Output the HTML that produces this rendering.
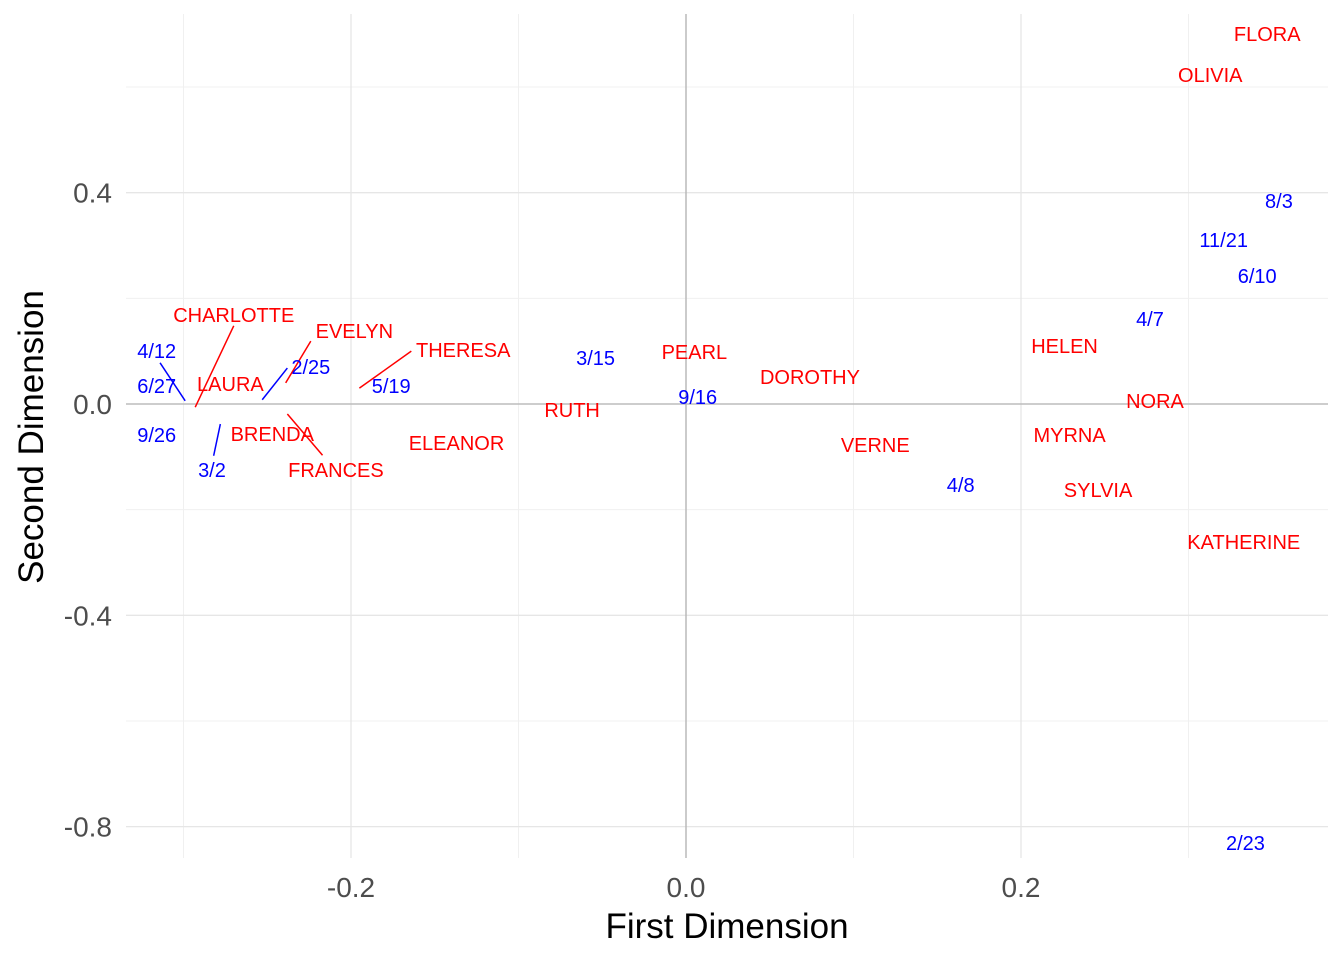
<!DOCTYPE html>
<html><head><meta charset="utf-8"><style>
body{margin:0;background:#fff;}
svg{display:block;font-family:"Liberation Sans",Arial,sans-serif;}
</style></head><body>
<svg id="chart" width="1344" height="960"></svg>
<script>
const womenNames=["FLORA","OLIVIA","CHARLOTTE","EVELYN","THERESA","LAURA","PEARL","DOROTHY","HELEN","RUTH","NORA","BRENDA","ELEANOR","MYRNA","VERNE","FRANCES","SYLVIA","KATHERINE"];
const womenX=[0.347,0.313,-0.270,-0.198,-0.133,-0.272,0.005,0.074,0.226,-0.068,0.280,-0.247,-0.137,0.229,0.113,-0.209,0.246,0.333];
const womenY=[0.700,0.623,0.168,0.138,0.102,0.038,0.098,0.051,0.110,-0.011,0.006,-0.057,-0.074,-0.059,-0.078,-0.125,-0.163,-0.261];
const eventNames=["8/3","11/21","6/10","4/7","4/12","2/25","3/15","6/27","5/19","9/16","9/26","3/2","4/8","2/23"];
const eventX=[0.354,0.321,0.341,0.277,-0.316,-0.224,-0.054,-0.316,-0.176,0.007,-0.316,-0.283,0.164,0.334];
const eventY=[0.384,0.310,0.242,0.161,0.100,0.070,0.087,0.034,0.034,0.013,-0.059,-0.125,-0.153,-0.831];
const segLabels=["CHARLOTTE","EVELYN","THERESA","FRANCES","4/12","2/25","3/2"];
const segColor=["red","red","red","red","blue","blue","blue"];
const segX1=[-0.270,-0.224,-0.164,-0.217,-0.314,-0.238,-0.278];
const segY1=[0.148,0.119,0.100,-0.097,0.078,0.068,-0.038];
const segX2=[-0.293,-0.239,-0.195,-0.238,-0.299,-0.253,-0.282];
const segY2=[-0.006,0.040,0.030,-0.019,0.006,0.008,-0.098];
const xTicks=[-0.2,0.0,0.2];
const xTickLabels=["-0.2","0.0","0.2"];
const xMinor=[-0.3,-0.1,0.1,0.3];
const yTicks=[0.4,0.0,-0.4,-0.8];
const yTickLabels=["0.4","0.0","-0.4","-0.8"];
const yMinor=[0.6,0.2,-0.2,-0.6];

const svg=document.getElementById('chart');
const NS="http://www.w3.org/2000/svg";
const L=126,R=1328,T=14,B=858;
const sx=v=>686+v*1675;
const sy=v=>404-v*528.3;
function mk(tag,attrs,parent){const e=document.createElementNS(NS,tag);for(const k in attrs)e.setAttribute(k,attrs[k]);(parent||svg).appendChild(e);return e;}
const grid=mk('g',{});


xMinor.forEach(v=>mk('line',{x1:sx(v),x2:sx(v),y1:T,y2:B,stroke:'#f0f0f0','stroke-width':1},grid));
yMinor.forEach(v=>mk('line',{x1:L,x2:R,y1:sy(v),y2:sy(v),stroke:'#f0f0f0','stroke-width':1},grid));
xTicks.forEach(v=>mk('line',{x1:sx(v),x2:sx(v),y1:T,y2:B,stroke:'#e6e6e6','stroke-width':1.3},grid));
yTicks.forEach(v=>mk('line',{x1:L,x2:R,y1:sy(v),y2:sy(v),stroke:'#e6e6e6','stroke-width':1.3},grid));
const zx=mk('line',{x1:sx(0),x2:sx(0),y1:T,y2:B,stroke:'#b3b3b3','stroke-width':1.3});


const zy=mk('line',{x1:L,x2:R,y1:sy(0),y2:sy(0),stroke:'#b3b3b3','stroke-width':1.3});


xTicks.forEach((v,i)=>{const t=mk('text',{x:sx(v),y:897,'text-anchor':'middle','font-size':28,fill:'#4d4d4d'});t.textContent=xTickLabels[i];

});
yTicks.forEach((v,i)=>{const t=mk('text',{x:112,y:sy(v)+10,'text-anchor':'end','font-size':28,fill:'#4d4d4d'});t.textContent=yTickLabels[i];

});
const xt=mk('text',{x:727,y:938,'text-anchor':'middle','font-size':35,fill:'#000'});xt.textContent='First Dimension';


const yt=mk('text',{x:0,y:0,'text-anchor':'middle','font-size':35,fill:'#000',transform:'translate(43,437) rotate(-90)'});yt.textContent='Second Dimension';


segLabels.forEach((s,i)=>{const l=mk('line',{x1:sx(segX1[i]),y1:sy(segY1[i]),x2:sx(segX2[i]),y2:sy(segY2[i]),stroke:segColor[i],'stroke-width':1.5});

});
womenNames.forEach((n,i)=>{const t=mk('text',{x:sx(womenX[i]),y:sy(womenY[i])+7,'text-anchor':'middle','font-size':20,fill:'red'});t.textContent=n;

});
eventNames.forEach((n,i)=>{const t=mk('text',{x:sx(eventX[i]),y:sy(eventY[i])+7,'text-anchor':'middle','font-size':20,fill:'blue'});t.textContent=n;

});
</script>
</body></html>
